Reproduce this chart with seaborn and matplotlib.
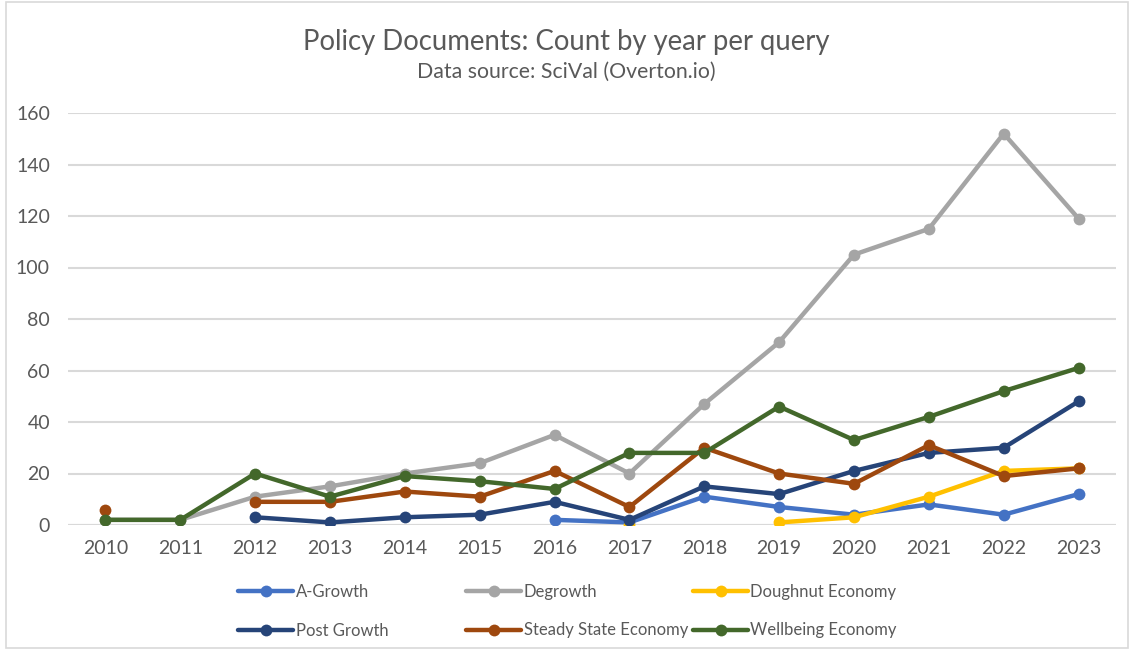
import numpy as np
import pandas as pd
import matplotlib
matplotlib.use("Agg")
import matplotlib.pyplot as plt
from matplotlib.patches import Rectangle
from matplotlib.lines import Line2D
import seaborn as sns

nan = np.nan
years = [2010, 2011, 2012, 2013, 2014, 2015, 2016, 2017, 2018, 2019, 2020, 2021, 2022, 2023]

a_growth     = [nan, nan, nan, nan, nan, nan, 2, 1, 11, 7, 4, 8, 4, 12]
degrowth     = [2, 2, 11, 15, 20, 24, 35, 20, 47, 71, 105, 115, 152, 119]
doughnut     = [nan, nan, nan, nan, nan, nan, nan, 0, nan, 1, 3, 11, 21, 22]
post_growth  = [nan, nan, 3, 1, 3, 4, 9, 2, 15, 12, 21, 28, 30, 48]
steady_state = [6, nan, 9, 9, 13, 11, 21, 7, 30, 20, 16, 31, 19, 22]
wellbeing    = [2, 2, 20, 11, 19, 17, 14, 28, 28, 46, 33, 42, 52, 61]

series_names = ["A-Growth", "Degrowth", "Doughnut Economy",
                "Post Growth", "Steady State Economy", "Wellbeing Economy"]
series_values = [a_growth, degrowth, doughnut, post_growth, steady_state, wellbeing]
series_colors = ["#4472C4", "#A5A5A5", "#FFC000", "#264478", "#9E480E", "#43682B"]

title = "Policy Documents: Count by year per query"
subtitle = "Data source: SciVal (Overton.io)"
y_ticks = [0, 20, 40, 60, 80, 100, 120, 140, 160]

sns.set_theme(style="white")
plt.rcParams["font.family"] = ["Lato", "DejaVu Sans"]

W, H = 1132, 654
fig = plt.figure(figsize=(W / 100, H / 100), dpi=100)
fig.patch.set_facecolor("white")

ax = fig.add_axes([68 / W, 1 - 525 / H, (1116 - 68) / W, (525 - 113) / H])
ax.set_facecolor("white")

# long-form table; each run of consecutive values becomes its own segment so gaps stay open
rows = []
for name, vals in zip(series_names, series_values):
    seg = 0
    prev_nan = True
    for i, v in enumerate(vals):
        if np.isnan(v):
            prev_nan = True
            continue
        if prev_nan:
            seg += 1
        prev_nan = False
        rows.append({"series": name, "x": i, "count": v, "seg": f"{name}-{seg}"})
df = pd.DataFrame(rows)

for z, (name, color) in enumerate(zip(series_names, series_colors)):
    sub = df[df["series"] == name]
    for seg_id, part in sub.groupby("seg", sort=False):
        sns.lineplot(data=part, x="x", y="count", ax=ax, color=color,
                     linewidth=3.2, marker="o", markersize=8.5,
                     markeredgewidth=0, estimator=None, legend=False,
                     zorder=3 + z)

ax.set_xlim(-0.5, len(years) - 0.5)
ax.set_ylim(0, 160)
ax.set_xticks(range(len(years)))
ax.set_xticklabels([str(y) for y in years])
ax.set_yticks(y_ticks)
ax.set_yticklabels([str(t) for t in y_ticks])
ax.set_xlabel("")
ax.set_ylabel("")
ax.tick_params(axis="both", length=0, labelsize=14, labelcolor="#595959")
ax.tick_params(axis="x", pad=11)
ax.tick_params(axis="y", pad=13)
ax.grid(axis="y", color="#D9D9D9", linewidth=1.5)
ax.set_axisbelow(True)
for s in ax.spines.values():
    s.set_visible(False)
ax.axhline(0, color="#D9D9D9", linewidth=1.5, zorder=1)

fig.text(0.5, 1 - 42 / H, title, ha="center", va="center",
         fontsize=19.8, color="#595959")
fig.text(0.5, 1 - 72 / H, subtitle, ha="center", va="center",
         fontsize=15.3, color="#595959")

# legend laid out as three equal-width columns
handles = [Line2D([], [], color=c, linewidth=3.2, marker="o", markersize=8.5,
                  markeredgewidth=0) for c in series_colors]
columns = [(0, 3), (1, 4), (2, 5)]
col_x = [238, 466, 693]
for (i, j), x0 in zip(columns, col_x):
    fig.legend([handles[i], handles[j]], [series_names[i], series_names[j]],
               loc="upper left", bbox_to_anchor=(x0 / W, 1 - 584 / H),
               frameon=False, fontsize=12, labelcolor="#595959",
               handlelength=3.3, handletextpad=0.15, labelspacing=1.35,
               borderaxespad=0, borderpad=0)

fig.add_artist(Rectangle((6 / W, 1 - 648 / H), (1128 - 6) / W, (648 - 2) / H,
                         transform=fig.transFigure, fill=False,
                         edgecolor="#D9D9D9", linewidth=1.2))

fig.savefig("out.png", dpi=100, facecolor="white")
